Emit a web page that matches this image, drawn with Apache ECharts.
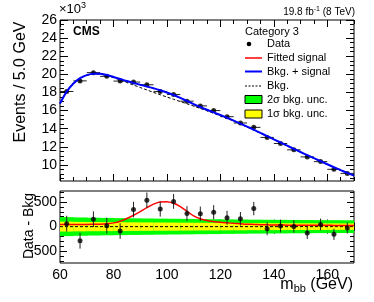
<!DOCTYPE html>
<html><head><meta charset="utf-8">
<script src="https://cdn.jsdelivr.net/npm/echarts@6/dist/echarts.min.js"></script>
<style>html,body{margin:0;padding:0;background:#fff}#c{width:374px;height:302px}</style>
</head><body><div id="c"></div>
<script>
// ---------- data ----------
const binCenters = [62.5,67.5,72.5,77.5,82.5,87.5,92.5,97.5,102.5,107.5,112.5,117.5,122.5,127.5,132.5,137.5,142.5,147.5,152.5,157.5,162.5,167.5];
// events per bin, in units of 10^3
const dataEvents = [18.11,19.28,20.19,19.78,19.26,19.15,18.85,18.10,17.78,17.04,16.52,16.00,15.33,14.63,14.15,13.04,12.37,11.67,10.89,10.37,9.52,9.07];
// data - bkg (events)
const residuals = [60,-285,150,20,-90,345,535,355,510,265,260,292,178,158,365,-42,12,5,-128,45,-155,-28];
const residualErrors = [160,160,160,160,158,157,155,152,150,148,145,143,140,137,135,132,128,125,122,118,114,110];
// background uncertainty bands (half widths, events)
const band2Sigma = [192,185,180,176,172,168,165,162,159,156,153,150,147,144,141,139,137,135,133,131,130,129];
const band1Sigma = [100,96,93,91,89,87,85,83,82,80,78,77,75,74,72,71,70,69,68,67,66,65];
// fitted curves sampled every 2.5 GeV
const curveMass = [60,62.5,65,67.5,70,72.5,75,77.5,80,82.5,85,87.5,90,92.5,95,97.5,100,102.5,105,107.5,110,112.5,115,117.5,120,122.5,125,127.5,130,132.5,135,137.5,140,142.5,145,147.5,150,152.5,155,157.5,160,162.5,165,167.5,170];
const bkgCurve = [16.75,18.05,18.95,19.55,19.88,20.03,20.02,19.86,19.63,19.38,19.10,18.82,18.55,18.28,18.01,17.75,17.50,17.25,17.00,16.75,16.50,16.24,15.97,15.70,15.42,15.13,14.83,14.51,14.18,13.84,13.50,13.15,12.80,12.45,12.10,11.75,11.40,11.06,10.72,10.38,10.05,9.72,9.40,9.09,8.79];
const bkgSignalCurve = [16.79,18.09,18.99,19.59,19.92,20.08,20.07,19.92,19.71,19.49,19.26,19.05,18.85,18.66,18.46,18.25,18.00,17.72,17.41,17.06,16.72,16.40,16.09,15.80,15.51,15.21,14.90,14.57,14.23,13.89,13.54,13.19,12.83,12.48,12.13,11.78,11.43,11.09,10.75,10.41,10.08,9.75,9.43,9.12,8.82];
const signalCurve = [45,45,45,45,45,47,50,58,76,110,165,230,305,385,455,498,502,472,405,312,218,158,122,102,87,76,66,58,50,45,40,36,32,31,30,29,28,27,27,26,26,25,25,25,25];
// axis ticks
const xMajorTicks = [60,80,100,120,140,160];
const yTopMajorTicks = [10,12,14,16,18,20,22,24,26];
const yBotMajorTicks = [-500,0,500];

const xMinorTicks = [], yTopMinorTicks = [], yBotMinorTicks = [];
for (let v = 60; v <= 170; v += 5) if (xMajorTicks.indexOf(v) < 0) xMinorTicks.push(v);
for (let v = 8.5; v <= 26; v += 0.5) if (yTopMajorTicks.indexOf(v) < 0) yTopMinorTicks.push(v);
for (let v = -700; v <= 700; v += 100) if (yBotMajorTicks.indexOf(v) < 0) yBotMinorTicks.push(v);

const FONT = '"Liberation Sans", Arial, Helvetica, sans-serif';
const chart = echarts.init(document.getElementById('c'), null, {renderer: 'canvas'});

const X0 = 60, XW = 294;
const grids = [
  {left: X0, top: 20, width: XW, height: 161, show: true, borderColor: '#000', borderWidth: 1, backgroundColor: 'transparent'},
  {left: X0, top: 191, width: XW, height: 72, show: true, borderColor: '#000', borderWidth: 1, backgroundColor: 'transparent'}
];

function xAx(grid, pos, ticks, len, labels) {
  return {
    type: 'value', gridIndex: grid, position: pos, min: 60, max: 170,
    axisLine: {show: false}, splitLine: {show: false},
    axisTick: {show: true, inside: true, length: len, customValues: ticks, lineStyle: {color: '#000', width: 1}},
    axisLabel: labels ? {show: true, customValues: ticks, color: '#000', fontSize: 14, fontFamily: FONT, margin: 5} : {show: false}
  };
}
function yAx(grid, pos, min, max, ticks, len, labels) {
  return {
    type: 'value', gridIndex: grid, position: pos, min: min, max: max,
    axisLine: {show: false}, splitLine: {show: false},
    axisTick: {show: true, inside: true, length: len, customValues: ticks, lineStyle: {color: '#000', width: 1}},
    axisLabel: labels ? {show: true, customValues: ticks, color: '#000', fontSize: 14, fontFamily: FONT, margin: 3} : {show: false}
  };
}
const YT = [8.23, 26], YB = [-735, 720];
const xAxes = [
  xAx(0, 'bottom', xMajorTicks, 7, false),
  xAx(0, 'bottom', xMinorTicks, 4, false),
  xAx(0, 'top', xMajorTicks, 7, false),
  xAx(0, 'top', xMinorTicks, 4, false),
  xAx(1, 'bottom', xMajorTicks, 7, true),
  xAx(1, 'bottom', xMinorTicks, 4, false),
  xAx(1, 'top', xMajorTicks, 7, false),
  xAx(1, 'top', xMinorTicks, 4, false)
];
const yAxes = [
  yAx(0, 'left', YT[0], YT[1], yTopMajorTicks, 8, true),
  yAx(0, 'left', YT[0], YT[1], yTopMinorTicks, 4, false),
  yAx(0, 'right', YT[0], YT[1], yTopMajorTicks, 8, false),
  yAx(0, 'right', YT[0], YT[1], yTopMinorTicks, 4, false),
  yAx(1, 'left', YB[0], YB[1], yBotMajorTicks, 7, true),
  yAx(1, 'left', YB[0], YB[1], yBotMinorTicks, 4, false),
  yAx(1, 'right', YB[0], YB[1], yBotMajorTicks, 7, false),
  yAx(1, 'right', YB[0], YB[1], yBotMinorTicks, 4, false)
];
yAxes[0].axisLabel.formatter = v => String(v);

function pairs(xs, ys) { return xs.map((x, i) => [x, ys[i]]); }

function errRender(withX, color) {
  return function (params, api) {
    const x = api.value(0), y = api.value(1), e = api.value(2);
    const ch = [];
    if (withX) {
      const l = api.coord([x - 2.5, y]), r = api.coord([x + 2.5, y]);
      ch.push({type: 'line', shape: {x1: l[0], y1: l[1], x2: r[0], y2: r[1]}, style: {stroke: color, lineWidth: 1}});
    }
    const t = api.coord([x, y + e]), b = api.coord([x, y - e]);
    ch.push({type: 'line', shape: {x1: t[0], y1: t[1], x2: b[0], y2: b[1]}, style: {stroke: color, lineWidth: 1}});
    return {type: 'group', children: ch};
  };
}
function bandRender(params, api) {
  const x = api.value(0), g = api.value(1), s = api.value(2);
  const a = api.coord([x - 2.5, g]), b = api.coord([x + 2.5, -g]);
  const c = api.coord([x - 2.5, s]), d = api.coord([x + 2.5, -s]);
  return {type: 'group', children: [
    {type: 'rect', shape: {x: a[0], y: a[1], width: b[0] - a[0] + 0.5, height: b[1] - a[1]}, style: {fill: '#00ff00'}},
    {type: 'rect', shape: {x: c[0], y: c[1], width: d[0] - c[0] + 0.5, height: d[1] - c[1]}, style: {fill: '#ffff00'}}
  ]};
}

const series = [
  // bottom panel
  {type: 'custom', name: 'bands', xAxisIndex: 4, yAxisIndex: 4, renderItem: bandRender, clip: true, z: 1,
   data: binCenters.map((x, i) => [x, band2Sigma[i], band1Sigma[i]])},
  {type: 'line', name: 'zero', xAxisIndex: 4, yAxisIndex: 4, data: [[60, 0], [170, 0]], symbol: 'none', z: 3,
   lineStyle: {color: '#000', width: 1, type: [3, 2]}},
  {type: 'line', name: 'Fitted signal', xAxisIndex: 4, yAxisIndex: 4, data: pairs(curveMass, signalCurve), symbol: 'none', smooth: 0.3, z: 4,
   lineStyle: {color: '#ff0000', width: 1.5}},
  {type: 'custom', name: 'resErr', xAxisIndex: 4, yAxisIndex: 4, renderItem: errRender(false, '#222'), z: 5,
   data: binCenters.map((x, i) => [x, residuals[i], residualErrors[i]])},
  {type: 'scatter', name: 'resData', xAxisIndex: 4, yAxisIndex: 4, data: pairs(binCenters, residuals), symbol: 'circle', symbolSize: 5, z: 6,
   itemStyle: {color: '#000'}},
  // top panel
  {type: 'custom', name: 'dataErr', xAxisIndex: 0, yAxisIndex: 0, renderItem: errRender(true, '#222'), z: 5,
   data: binCenters.map((x, i) => [x, dataEvents[i], residualErrors[i] / 1000])},
  {type: 'scatter', name: 'Data', xAxisIndex: 0, yAxisIndex: 0, data: pairs(binCenters, dataEvents), symbol: 'circle', symbolSize: 5, z: 6,
   itemStyle: {color: '#000'}},
  {type: 'line', name: 'Bkg.', xAxisIndex: 0, yAxisIndex: 0, data: pairs(curveMass, bkgCurve), symbol: 'none', smooth: 0.3, z: 7,
   lineStyle: {color: '#000', width: 1, type: [3, 2]}},
  {type: 'line', name: 'Bkg. + signal', xAxisIndex: 0, yAxisIndex: 0, data: pairs(curveMass, bkgSignalCurve), symbol: 'none', smooth: 0.3, z: 8,
   lineStyle: {color: '#0000ff', width: 2}}
];

const LX = 245, TX = 267;
const legendRows = [44, 58, 71.5, 86, 99.5, 114];
const legendTexts = ['Data', 'Fitted signal', 'Bkg. + signal', 'Bkg.', '2σ bkg. unc.', '1σ bkg. unc.'];
const txt = (x, y, s, size, extra) => Object.assign({type: 'text', x: x, y: y, style: Object.assign({text: s, fill: '#000', fontSize: size, fontFamily: FONT, textVerticalAlign: 'middle'}, extra || {})});
const graphic = [
  txt(21, 82, 'Events / 5.0 GeV', 16, {textAlign: 'center'}),
  txt(29, 226, 'Data - Bkg', 14, {textAlign: 'center'}),
  txt(73, 32, 'CMS', 12, {fontWeight: 'bold'}),
  {type: 'text', x: 59, y: 9, style: {text: '×10{s|3}', fill: '#000', fontSize: 13, fontFamily: FONT, textVerticalAlign: 'middle',
     rich: {s: {fontSize: 9, fontFamily: FONT, verticalAlign: 'top', padding: [0, 0, 6, 0]}}}},
  {type: 'text', x: 355, y: 12, style: {text: '19.8 fb{s|-1} (8 TeV)', fill: '#000', fontSize: 10, fontFamily: FONT, textAlign: 'right', textVerticalAlign: 'middle',
     rich: {s: {fontSize: 7, fontFamily: FONT, padding: [0, 0, 5, 0]}}}},
  {type: 'text', x: 353, y: 285, style: {text: 'm{s|bb} (GeV)', fill: '#000', fontSize: 16, fontFamily: FONT, textAlign: 'right', textVerticalAlign: 'middle',
     rich: {s: {fontSize: 11, fontFamily: FONT, padding: [7, 0, 0, 0]}}}},
  txt(LX, 31.5, 'Category 3', 11),
  {type: 'circle', shape: {cx: 249, cy: legendRows[0], r: 2.3}, style: {fill: '#000'}},
  {type: 'line', shape: {x1: LX, y1: legendRows[1], x2: 262, y2: legendRows[1]}, style: {stroke: '#ff0000', lineWidth: 1.5}},
  {type: 'line', shape: {x1: LX, y1: legendRows[2], x2: 262, y2: legendRows[2]}, style: {stroke: '#0000ff', lineWidth: 2}},
  {type: 'line', shape: {x1: LX, y1: legendRows[3], x2: 262, y2: legendRows[3]}, style: {stroke: '#000', lineWidth: 1, lineDash: [2, 1.5]}},
  {type: 'rect', shape: {x: LX, y: legendRows[4] - 4, width: 17, height: 8}, style: {fill: '#00ff00', stroke: '#000', lineWidth: 1}},
  {type: 'rect', shape: {x: LX, y: legendRows[5] - 4, width: 17, height: 8}, style: {fill: '#ffff00', stroke: '#000', lineWidth: 1}}
];
legendTexts.forEach((s, i) => graphic.push(txt(TX, legendRows[i], s, 11)));
graphic[0].rotation = Math.PI / 2;
graphic[1].rotation = Math.PI / 2;

chart.setOption({
  animation: false,
  backgroundColor: '#fff',
  grid: grids,
  xAxis: xAxes,
  yAxis: yAxes,
  series: series,
  graphic: graphic
});
</script></body></html>
